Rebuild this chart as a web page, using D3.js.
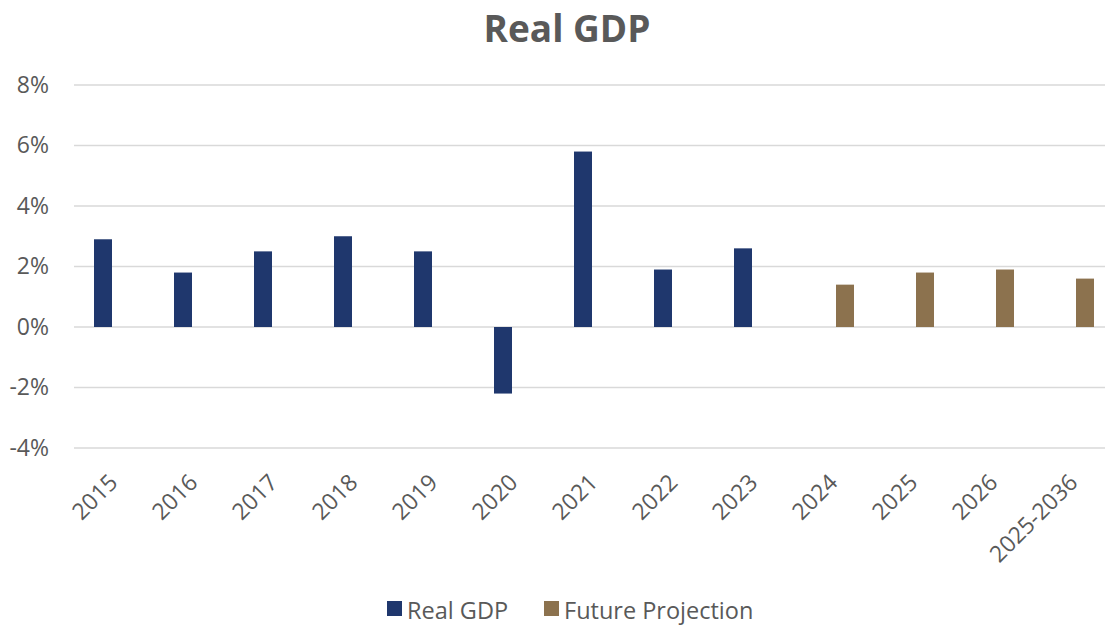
<!DOCTYPE html>
<html>
<head>
<meta charset="utf-8">
<script src="https://cdn.jsdelivr.net/npm/d3@7"></script>
<style>
  html, body { margin: 0; padding: 0; background: #fff; }
  svg { display: block; font-family: "Open Sans", sans-serif; }
</style>
</head>
<body>
<svg id="chart" width="1105" height="625"></svg>
<script>
const categories = ["2015","2016","2017","2018","2019","2020","2021","2022","2023","2024","2025","2026","2025-2036"];
const realGDP = [2.9, 1.8, 2.5, 3.0, 2.5, -2.2, 5.8, 1.9, 2.6, null, null, null, null];
const futureProjection = [null, null, null, null, null, null, null, null, null, 1.4, 1.8, 1.9, 1.6];
const seriesNames = ["Real GDP", "Future Projection"];
const seriesColors = ["#1F376D", "#8C724E"];
const yTicks = [-4, -2, 0, 2, 4, 6, 8];
const title = "Real GDP";

const svg = d3.select("#chart");
const textColor = "#595959";

const x = d3.scaleBand().domain(categories).range([74, 1114]).padding(0);
const xSub = d3.scaleBand().domain(seriesNames).range([18, 62]);
const y = d3.scaleLinear().domain([-4, 8]).range([448, 85]);

// gridlines
svg.append("g")
  .selectAll("line")
  .data(yTicks)
  .join("line")
  .attr("x1", 74).attr("x2", 1114)
  .attr("y1", d => y(d)).attr("y2", d => y(d))
  .attr("stroke", "#d9d9d9").attr("stroke-width", 1.5);

// y axis labels
const yAxis = d3.axisLeft(y).tickValues(yTicks).tickFormat(d => d + "%").tickSize(0).tickPadding(0);
const yg = svg.append("g").attr("transform", "translate(49,0)").call(yAxis);
yg.select(".domain").remove();
yg.selectAll("text").attr("fill", textColor).style("font-size", "23px").style("font-family", "Open Sans");

// bars
const allSeries = [realGDP, futureProjection];
allSeries.forEach((vals, si) => {
  const data = categories.map((c, i) => ({ c, v: vals[i] })).filter(d => d.v !== null);
  svg.append("g").selectAll("rect")
    .data(data)
    .join("rect")
    .attr("x", d => x(d.c) + xSub(seriesNames[si]) + 2)
    .attr("width", xSub.bandwidth() - 4)
    .attr("y", d => y(Math.max(0, d.v)))
    .attr("height", d => Math.abs(y(d.v) - y(0)))
    .attr("fill", seriesColors[si]);
});

// x axis labels
const xAxis = d3.axisBottom(x).tickSize(0).tickPadding(0);
const xg = svg.append("g").attr("transform", "translate(0,460)").call(xAxis);
xg.select(".domain").remove();
xg.selectAll("text")
  .attr("fill", textColor)
  .style("font-size", "23px")
  .style("font-family", "Open Sans")
  .attr("text-anchor", "end")
  .attr("dy", "0")
  .attr("y", 0)
  .attr("transform", "translate(5,24) rotate(-45)");

// title
svg.append("text")
  .attr("x", 567).attr("y", 42)
  .attr("text-anchor", "middle")
  .attr("fill", textColor)
  .style("font-size", "37px")
  .style("font-weight", "bold")
  .text(title);

// legend
const legendX = [387, 544];
const lg = svg.append("g");
seriesNames.forEach((name, i) => {
  lg.append("rect").attr("x", legendX[i]).attr("y", 601).attr("width", 15).attr("height", 15).attr("fill", seriesColors[i]);
  lg.append("text").attr("x", legendX[i] + 20).attr("y", 619)
    .attr("fill", textColor).style("font-size", "23.5px").text(name);
});
</script>
</body>
</html>
